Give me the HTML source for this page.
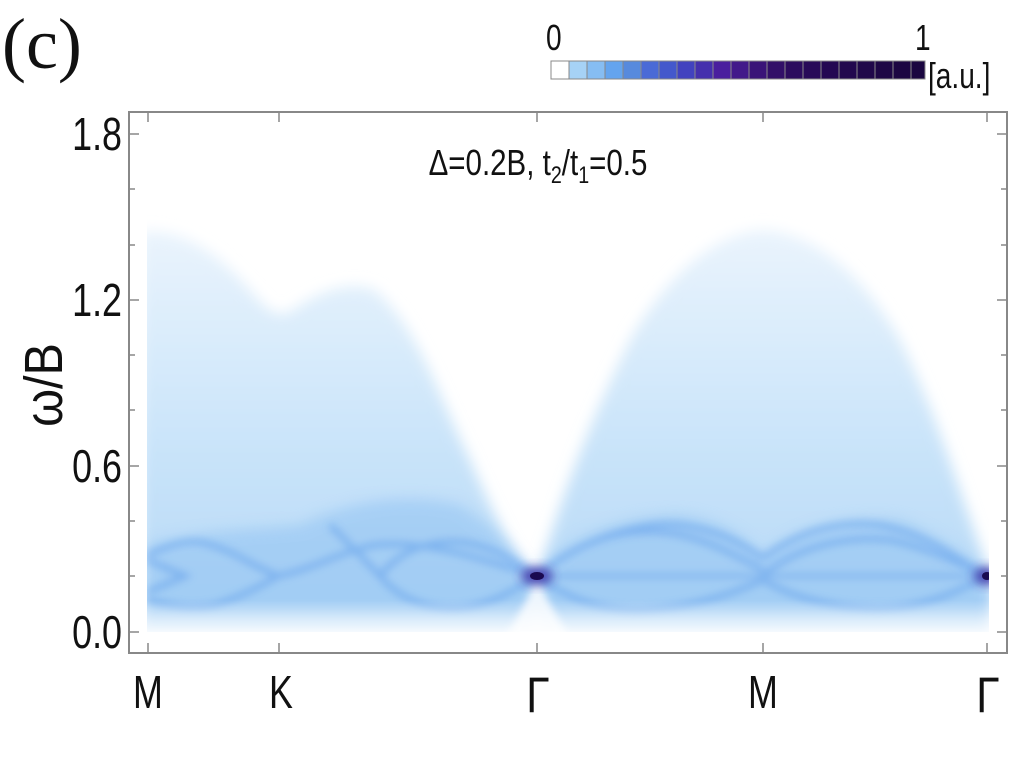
<!DOCTYPE html>
<html><head><meta charset="utf-8"><style>
html,body{margin:0;padding:0;background:#fff;}
svg{display:block;}
</style></head><body>
<svg width="1024" height="768" viewBox="0 0 1024 768" xmlns="http://www.w3.org/2000/svg" font-family="Liberation Sans, sans-serif">
<defs>
<filter id="b6" x="-20%" y="-20%" width="140%" height="140%"><feGaussianBlur stdDeviation="7"/></filter>
<filter id="b3" x="-20%" y="-20%" width="140%" height="140%"><feGaussianBlur stdDeviation="4"/></filter>
<filter id="b8" x="-50%" y="-50%" width="200%" height="200%"><feGaussianBlur stdDeviation="5"/></filter>
<linearGradient id="cont" x1="0" y1="0" x2="0" y2="1">
<stop offset="0" stop-color="#eaf4fd"/><stop offset="0.55" stop-color="#c8e3f9"/><stop offset="1" stop-color="#b4d8f7"/>
</linearGradient>
<linearGradient id="bot" x1="0" y1="0" x2="0" y2="1">
<stop offset="0" stop-color="#fff" stop-opacity="0"/><stop offset="1" stop-color="#fff" stop-opacity="0.9"/>
</linearGradient>
<clipPath id="pc"><rect x="147" y="140" width="842" height="492"/></clipPath>
</defs>
<g clip-path="url(#pc)">
<path d="M140,232 C180,228 215,250 250,290 C265,308 275,318 290,312 C320,290 350,280 375,290 C420,330 440,400 470,460 C500,530 525,575 537,580 L537,640 L140,640 Z" fill="url(#cont)" filter="url(#b6)"/>
<path d="M537,580 C560,500 590,420 630,340 C670,270 720,232 763,230 C810,232 860,270 900,340 C940,420 965,510 990,575 L990,640 L537,640 Z" fill="url(#cont)" filter="url(#b6)"/>
<path d="M147,545 C200,530 250,530 300,525 C340,505 400,490 460,505 C500,530 520,560 537,575 C560,540 620,515 680,515 C730,520 750,545 763,555 C800,525 850,515 900,520 C940,535 970,560 990,575 L990,615 L147,615 Z" fill="#8cc0f2" opacity="0.5" filter="url(#b6)"/>
<g fill="none" stroke="#4a8ee8" stroke-width="6" opacity="0.4" filter="url(#b3)">
<path d="M147,555 C170,545 185,540 200,542 C230,548 250,565 278,576"/>
<path d="M147,600 C170,605 190,610 215,605 C245,595 262,585 278,576"/>
<path d="M147,560 L185,576 L147,592"/>
<path d="M278,576 C310,570 340,552 375,545 C420,540 470,555 537,576"/>
<path d="M330,525 C350,545 365,560 380,576 C400,600 430,610 460,608 C490,605 515,590 537,576"/>
<path d="M380,576 C400,550 430,540 460,542 C490,545 515,560 537,576"/>
<path d="M537,576 C580,540 620,530 660,532 C700,535 735,555 763,570"/>
<path d="M537,576 C570,600 600,610 640,610 C690,608 730,595 763,580"/>
<path d="M537,576 C580,540 640,520 680,525 C720,530 745,545 763,558"/>
<path d="M763,558 C800,530 840,520 880,525 C930,535 960,560 988,576"/>
<path d="M763,575 C800,545 850,535 890,540 C930,548 960,565 988,576"/>
<path d="M763,580 C800,602 850,610 890,608 C930,605 960,590 988,576"/>
<path d="M537,576 L988,576" stroke-width="4"/>
</g>
<rect x="140" y="600" width="860" height="34" fill="url(#bot)"/>
<path d="M537,580 L505,640 L570,640 Z" fill="#fff" opacity="0.8" filter="url(#b3)"/>
<ellipse cx="537" cy="576" rx="16" ry="9" fill="#3a2aa0" opacity="0.8" filter="url(#b8)"/>
<ellipse cx="537" cy="576" rx="7" ry="4" fill="#1a0a50"/>
<ellipse cx="987" cy="576" rx="13" ry="9" fill="#3a2aa0" opacity="0.8" filter="url(#b8)"/>
<ellipse cx="987" cy="576" rx="5" ry="4" fill="#1a0a50"/>
</g>
<rect x="129" y="112" width="878" height="541" fill="none" stroke="#888" stroke-width="2"/>
<g stroke="#888" stroke-width="1.5">
<line x1="129" y1="134" x2="139" y2="134"/><line x1="129" y1="189" x2="135" y2="189"/><line x1="129" y1="245" x2="135" y2="245"/>
<line x1="129" y1="300" x2="139" y2="300"/><line x1="129" y1="355" x2="135" y2="355"/><line x1="129" y1="410" x2="135" y2="410"/>
<line x1="129" y1="466" x2="139" y2="466"/><line x1="129" y1="521" x2="135" y2="521"/><line x1="129" y1="576" x2="135" y2="576"/>
<line x1="129" y1="632" x2="139" y2="632"/>
<line x1="1007" y1="134" x2="997" y2="134"/><line x1="1007" y1="189" x2="1001" y2="189"/><line x1="1007" y1="245" x2="1001" y2="245"/>
<line x1="1007" y1="300" x2="997" y2="300"/><line x1="1007" y1="355" x2="1001" y2="355"/><line x1="1007" y1="410" x2="1001" y2="410"/>
<line x1="1007" y1="466" x2="997" y2="466"/><line x1="1007" y1="521" x2="1001" y2="521"/><line x1="1007" y1="576" x2="1001" y2="576"/>
<line x1="1007" y1="632" x2="997" y2="632"/>
<line x1="148" y1="653" x2="148" y2="643"/><line x1="279" y1="653" x2="279" y2="643"/><line x1="537" y1="653" x2="537" y2="643"/><line x1="763" y1="653" x2="763" y2="643"/><line x1="987" y1="653" x2="987" y2="643"/>
<line x1="148" y1="112" x2="148" y2="122"/><line x1="279" y1="112" x2="279" y2="122"/><line x1="537" y1="112" x2="537" y2="122"/><line x1="763" y1="112" x2="763" y2="122"/><line x1="987" y1="112" x2="987" y2="122"/>
</g>
<g font-size="46" fill="#111" text-anchor="end">
<text transform="translate(122,150) scale(0.78,1)">1.8</text>
<text transform="translate(122,316) scale(0.78,1)">1.2</text>
<text transform="translate(122,482) scale(0.78,1)">0.6</text>
<text transform="translate(122,648) scale(0.78,1)">0.0</text>
</g>
<text transform="translate(62,385) rotate(-90) scale(0.9,1)" font-size="54" text-anchor="middle" fill="#111">ω/B</text>
<g font-size="46" fill="#111" text-anchor="middle">
<text transform="translate(148,708) scale(0.78,1)">M</text>
<text transform="translate(281,708) scale(0.78,1)">K</text>
<text transform="translate(763,708) scale(0.78,1)">M</text>
<text transform="translate(538,712) scale(0.85,1)" font-size="50">Γ</text>
<text transform="translate(988,712) scale(0.85,1)" font-size="50">Γ</text>
</g>
<text transform="translate(538,175) scale(0.82,1)" font-size="36" text-anchor="middle" fill="#111">Δ=0.2B, t<tspan font-size="24" dy="8">2</tspan><tspan dy="-8">/t</tspan><tspan font-size="24" dy="8">1</tspan><tspan dy="-8">=0.5</tspan></text>
<text x="2" y="68" font-family="Liberation Serif, serif" font-size="72" fill="#111">(c)</text>
<g stroke="#888" stroke-width="1">
<rect x="551" y="61" width="18" height="18" fill="#ffffff"/>
<rect x="569" y="61" width="18" height="18" fill="#a6d2f6"/>
<rect x="587" y="61" width="18" height="18" fill="#86bdf2"/>
<rect x="605" y="61" width="18" height="18" fill="#64a4ee"/>
<rect x="623" y="61" width="18" height="18" fill="#578add"/>
<rect x="641" y="61" width="18" height="18" fill="#4a6ad6"/>
<rect x="659" y="61" width="18" height="18" fill="#4458cc"/>
<rect x="677" y="61" width="18" height="18" fill="#4242bf"/>
<rect x="695" y="61" width="18" height="18" fill="#4530ad"/>
<rect x="713" y="61" width="18" height="18" fill="#4a1f9e"/>
<rect x="731" y="61" width="18" height="18" fill="#421a8a"/>
<rect x="749" y="61" width="18" height="18" fill="#3a1478"/>
<rect x="767" y="61" width="18" height="18" fill="#321068"/>
<rect x="785" y="61" width="18" height="18" fill="#2c0c5e"/>
<rect x="803" y="61" width="18" height="18" fill="#280a58"/>
<rect x="821" y="61" width="18" height="18" fill="#240852"/>
<rect x="839" y="61" width="18" height="18" fill="#22084e"/>
<rect x="857" y="61" width="18" height="18" fill="#20084a"/>
<rect x="875" y="61" width="18" height="18" fill="#1e0746"/>
<rect x="893" y="61" width="18" height="18" fill="#1c0642"/>
<rect x="911" y="61" width="14" height="18" fill="#1a0640"/>
</g>
<g font-size="36" fill="#111">
<text transform="translate(546,50) scale(0.78,1)">0</text>
<text transform="translate(915,50) scale(0.78,1)">1</text>
<text transform="translate(928,88) scale(0.78,1)">[a.u.]</text>
</g>
</svg>
</body></html>
